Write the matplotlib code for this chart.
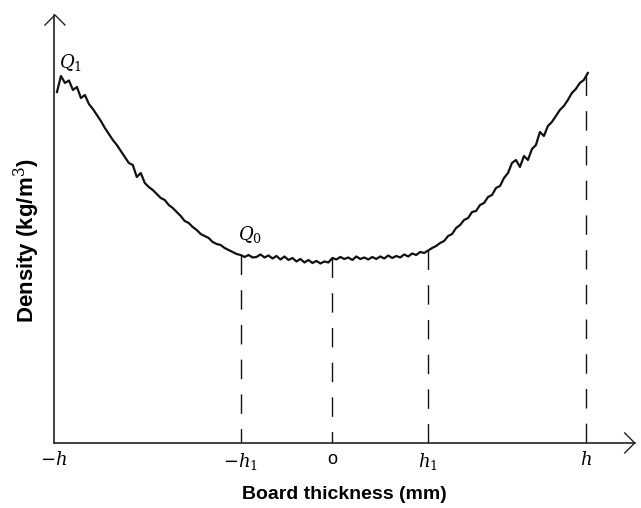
import numpy as np
import matplotlib
matplotlib.use("Agg")
import matplotlib.pyplot as plt

plt.rcParams['font.family'] = ['Liberation Sans', 'DejaVu Sans']
plt.rcParams['mathtext.fontset'] = 'dejavuserif'

# density profile across the board, sampled every 0.2 mm from -13.8 mm
x_start = -13.8
x_step = 0.2
density = [952, 984, 970, 975, 956, 962, 940, 946, 928, 918,
           906, 894, 880, 868, 856, 846, 834, 822, 810, 806,
           782, 790, 770, 762, 756, 748, 740, 736, 726, 720,
           712, 704, 694, 690, 682, 676, 668, 664, 660, 652,
           648, 646, 640, 636, 632, 628, 626, 622, 626, 621,
           622, 627, 621, 625, 619, 624, 617, 623, 616, 620,
           613, 618, 611, 616, 610, 614, 609, 613, 611, 620,
           617, 622, 618, 621, 616, 623, 618, 621, 617, 622,
           618, 623, 619, 625, 620, 624, 621, 627, 623, 629,
           626, 632, 630, 635, 640, 644, 650, 654, 664, 668,
           680, 686, 696, 700, 712, 714, 726, 730, 742, 746,
           760, 764, 780, 790, 810, 816, 802, 824, 816, 838,
           846, 872, 864, 884, 892, 904, 916, 924, 936, 950,
           958, 970, 976, 990]

# characteristic positions (mm): -h, -h1, 0, h1, h
tick_pos = [-13.95, -4.6, 0.0, 4.8, 12.7]
tick_labels = [r'$-h$', r'$-h_1$', 'o', r'$h_1$', r'$h$']
dash_pos = [-4.6, 0.0, 4.8, 12.7]

pos = x_start + x_step * np.arange(len(density))

fig = plt.figure(figsize=(6.41, 5.08), dpi=100)
ax = fig.add_axes([0.0842, 0.128, 0.906, 0.8425])

xmin, xmax = -13.9, 15.15
ymin, ymax = 250, 1106

ax.plot(pos, density, color='#111111', lw=1.6)

# dashed lines from the curve down to the axis
for p in dash_pos:
    top = np.interp(p, pos, density)
    ax.plot([p, p], [top, ymin], color='#111111', lw=1.0,
            linestyle=(0, (14, 11)))

ax.set_xlim(xmin, xmax)
ax.set_ylim(ymin, ymax)

for s in ['top', 'right']:
    ax.spines[s].set_visible(False)
for s in ['left', 'bottom']:
    ax.spines[s].set_linewidth(1.2)
    ax.spines[s].set_color('#222222')

# open arrow heads on the axes
ax.plot([xmin - 0.5, xmin, xmin + 0.5], [ymax - 20, ymax, ymax - 20],
        color='#222222', lw=1.0, clip_on=False)
ax.plot([xmax - 0.5, xmax, xmax - 0.5], [ymin + 20, ymin, ymin - 20],
        color='#222222', lw=1.0, clip_on=False)

ax.set_xticks(tick_pos)
ax.set_xticklabels(tick_labels, fontsize=13)
ax.tick_params(axis='x', length=0, pad=6)
ax.set_yticks([])

ax.text(-13.7, 1010, r'$Q_1$', fontsize=13, ha='left', va='center')
ax.text(-4.75, 667, r'$Q_0$', fontsize=13, ha='left', va='center')

ax.set_xlabel('Board thickness (mm)', fontsize=14, fontweight='bold', labelpad=10)
ax.set_ylabel('Density (kg/m$^3$)', fontsize=16, fontweight='bold')
ax.yaxis.set_label_coords(-0.02, 0.474)

fig.savefig('out.png', dpi=100)
